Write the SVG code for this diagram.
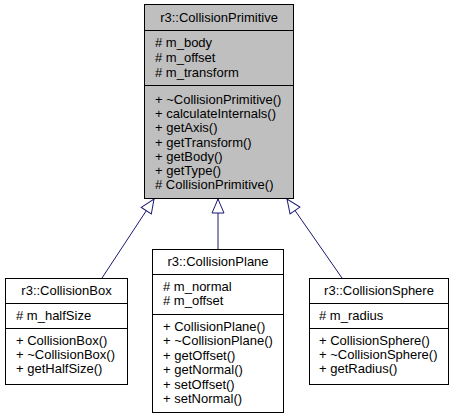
<svg xmlns="http://www.w3.org/2000/svg" width="454" height="419" viewBox="0 0 454 419">
<defs>
<style>
.box{fill:#ffffff;stroke:#000000;stroke-width:1}
.gray{fill:#bfbfbf}
.sep{stroke:#000000;stroke-width:1}
text{font-family:"Liberation Sans",Arial,sans-serif;font-size:13px;fill:#000000}
.t{text-anchor:middle}
.edge{stroke:#191970;stroke-width:1;fill:none}
</style>
<marker id="inh" markerUnits="userSpaceOnUse" markerWidth="16" markerHeight="14" viewBox="-1 -7 16 14" refX="14" refY="0" orient="auto">
<path d="M0,-6 L14,0 L0,6 Z" fill="#ffffff" stroke="#191970" stroke-width="1"/>
</marker>
</defs>
<rect width="454" height="419" fill="#ffffff"/>
<g id="edges">
<line class="edge" x1="102" y1="278" x2="154" y2="199" marker-end="url(#inh)"/>
<line class="edge" x1="218" y1="249" x2="218" y2="199" marker-end="url(#inh)"/>
<line class="edge" x1="342" y1="278" x2="287" y2="199" marker-end="url(#inh)"/>
</g>
<g id="CollisionPrimitive">
<rect class="box gray" x="144.5" y="4.5" width="149" height="194"/>
<line class="sep" x1="144.5" y1="30.5" x2="293.5" y2="30.5"/>
<line class="sep" x1="144.5" y1="85.5" x2="293.5" y2="85.5"/>
<text class="t" x="219" y="22">r3::CollisionPrimitive</text>
<text x="155" y="47"># m_body</text>
<text x="155" y="62"># m_offset</text>
<text x="155" y="77"># m_transform</text>
<text x="155" y="104">+ ~CollisionPrimitive()</text>
<text x="155" y="118">+ calculateInternals()</text>
<text x="155" y="132">+ getAxis()</text>
<text x="155" y="146.5">+ getTransform()</text>
<text x="155" y="160.5">+ getBody()</text>
<text x="155" y="175">+ getType()</text>
<text x="155" y="189"># CollisionPrimitive()</text>
</g>
<g id="CollisionBox">
<rect class="box" x="5.5" y="278.5" width="122" height="106"/>
<line class="sep" x1="5.5" y1="303.5" x2="127.5" y2="303.5"/>
<line class="sep" x1="5.5" y1="328.5" x2="127.5" y2="328.5"/>
<text class="t" x="66.5" y="295">r3::CollisionBox</text>
<text x="16" y="320"># m_halfSize</text>
<text x="16" y="345">+ CollisionBox()</text>
<text x="16" y="359">+ ~CollisionBox()</text>
<text x="16" y="373">+ getHalfSize()</text>
</g>
<g id="CollisionPlane">
<rect class="box" x="152.5" y="249.5" width="131" height="163"/>
<line class="sep" x1="152.5" y1="274.5" x2="283.5" y2="274.5"/>
<line class="sep" x1="152.5" y1="314.5" x2="283.5" y2="314.5"/>
<text class="t" x="218" y="266">r3::CollisionPlane</text>
<text x="163" y="290.5"># m_normal</text>
<text x="163" y="305"># m_offset</text>
<text x="163" y="331">+ CollisionPlane()</text>
<text x="163" y="345">+ ~CollisionPlane()</text>
<text x="163" y="359.5">+ getOffset()</text>
<text x="163" y="374">+ getNormal()</text>
<text x="163" y="388.5">+ setOffset()</text>
<text x="163" y="403">+ setNormal()</text>
</g>
<g id="CollisionSphere">
<rect class="box" x="309.5" y="278.5" width="139" height="106"/>
<line class="sep" x1="309.5" y1="303.5" x2="448.5" y2="303.5"/>
<line class="sep" x1="309.5" y1="328.5" x2="448.5" y2="328.5"/>
<text class="t" x="379" y="295">r3::CollisionSphere</text>
<text x="319" y="320"># m_radius</text>
<text x="319" y="345">+ CollisionSphere()</text>
<text x="319" y="359">+ ~CollisionSphere()</text>
<text x="319" y="373">+ getRadius()</text>
</g>
</svg>
